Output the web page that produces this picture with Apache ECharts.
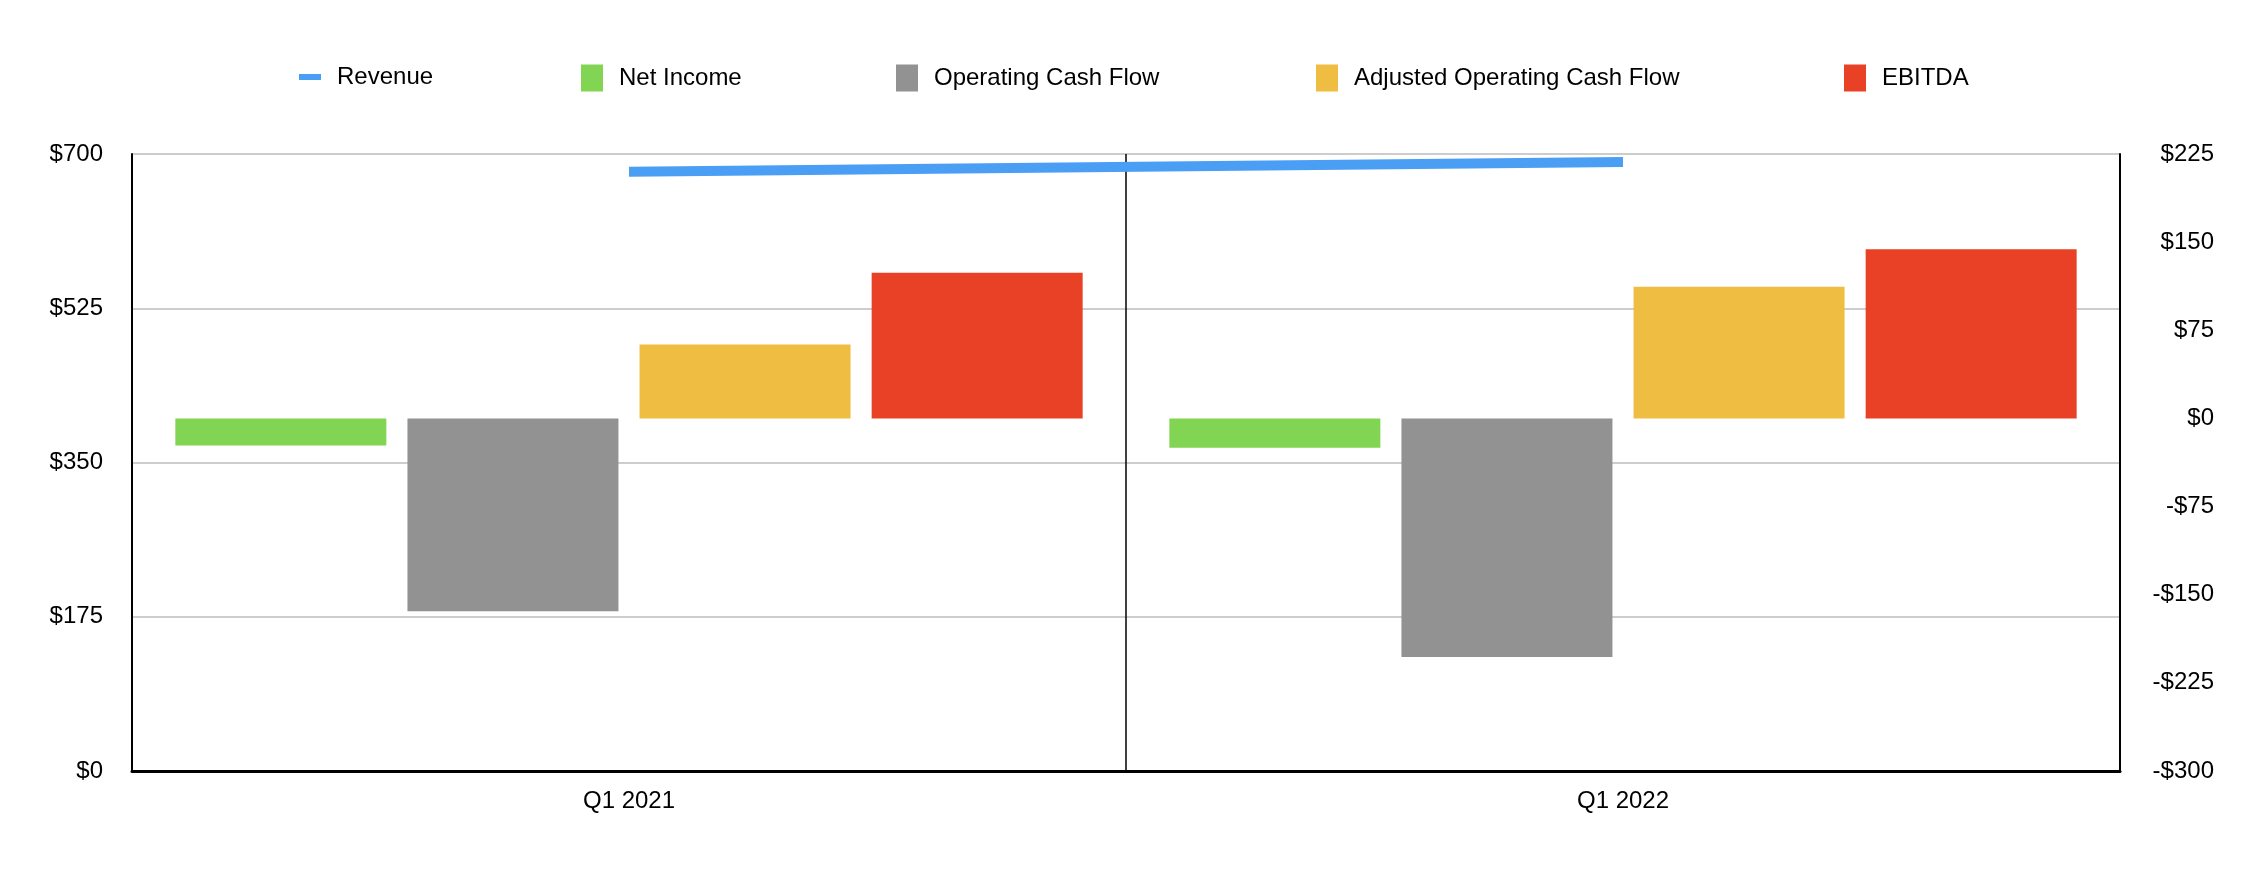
<!DOCTYPE html>
<html>
<head>
<meta charset="utf-8">
<script src="https://cdn.jsdelivr.net/npm/echarts@6/dist/echarts.min.js"></script>
<style>
html,body{margin:0;padding:0;background:#fff;}
#chart{width:2256px;height:892px;}
</style>
</head>
<body>
<div id="chart"></div>
<script>
const categories = ['Q1 2021', 'Q1 2022'];
const revenue = [680, 691];
const netIncome = [-23, -25];
const operatingCashFlow = [-164, -203];
const adjustedOperatingCashFlow = [63, 112];
const ebitda = [124, 144];
const leftTicks = { min: 0, max: 700, interval: 175 };
const rightTicks = { min: -300, max: 225, interval: 75 };

const FONT = '"Liberation Sans", Arial, Helvetica, sans-serif';
const colors = {
  revenue: '#4a9ff5',
  net: '#82d552',
  ocf: '#929292',
  adj: '#eebd41',
  ebitda: '#e94125'
};
function money(v) {
  return v < 0 ? '-$' + Math.abs(v) : '$' + v;
}
function legend(name, left, top, w, h) {
  return {
    data: [name],
    left: left,
    top: top,
    orient: 'horizontal',
    itemWidth: w,
    itemHeight: h,
    icon: 'rect',
    selectedMode: false,
    textStyle: { fontFamily: FONT, fontSize: 24, color: '#000', padding: [0, 0, 0, 11] }
  };
}
const chart = echarts.init(document.getElementById('chart'));
chart.setOption({
  animation: false,
  backgroundColor: '#fff',
  textStyle: { fontFamily: FONT },
  legend: [
    legend('Revenue', 294, 60, 22, 6),
    legend('Net Income', 576, 59.5, 22, 27),
    legend('Operating Cash Flow', 891, 59.5, 22, 27),
    legend('Adjusted Operating Cash Flow', 1311, 59.5, 22, 27),
    legend('EBITDA', 1839, 59.5, 22, 27)
  ],
  grid: { left: 132, right: 136, top: 154, bottom: 121, containLabel: false },
  xAxis: {
    type: 'category',
    data: categories,
    axisLine: { show: true, lineStyle: { color: '#000', width: 3 } },
    axisTick: { show: false },
    axisLabel: { color: '#000', fontSize: 24, fontFamily: FONT, margin: 18 },
    splitLine: { show: true, lineStyle: { color: '#000', width: 1.5 } }
  },
  yAxis: [
    {
      type: 'value',
      min: leftTicks.min, max: leftTicks.max, interval: leftTicks.interval,
      position: 'left',
      axisLine: { show: true, lineStyle: { color: '#000', width: 2 } },
      axisTick: { show: false },
      axisLabel: { color: '#000', fontSize: 24, fontFamily: FONT, margin: 29, formatter: money },
      splitLine: { show: true, lineStyle: { color: '#bdbdbd', width: 1.5 } }
    },
    {
      type: 'value',
      min: rightTicks.min, max: rightTicks.max, interval: rightTicks.interval,
      position: 'right',
      axisLine: { show: true, lineStyle: { color: '#000', width: 2 } },
      axisTick: { show: false },
      axisLabel: { color: '#000', fontSize: 24, fontFamily: FONT, margin: 94, align: 'right', formatter: money },
      splitLine: { show: false }
    }
  ],
  series: [
    {
      name: 'Revenue', type: 'line', yAxisIndex: 0, data: revenue,
      symbol: 'none', color: colors.revenue,
      lineStyle: { width: 10, color: colors.revenue, cap: 'butt' }, z: 5
    },
    { name: 'Net Income', type: 'bar', yAxisIndex: 1, data: netIncome, color: colors.net, barWidth: 211, barGap: '10%' },
    { name: 'Operating Cash Flow', type: 'bar', yAxisIndex: 1, data: operatingCashFlow, color: colors.ocf, barWidth: 211, barGap: '10%' },
    { name: 'Adjusted Operating Cash Flow', type: 'bar', yAxisIndex: 1, data: adjustedOperatingCashFlow, color: colors.adj, barWidth: 211, barGap: '10%' },
    { name: 'EBITDA', type: 'bar', yAxisIndex: 1, data: ebitda, color: colors.ebitda, barWidth: 211, barGap: '10%' }
  ]
});
</script>
</body>
</html>
